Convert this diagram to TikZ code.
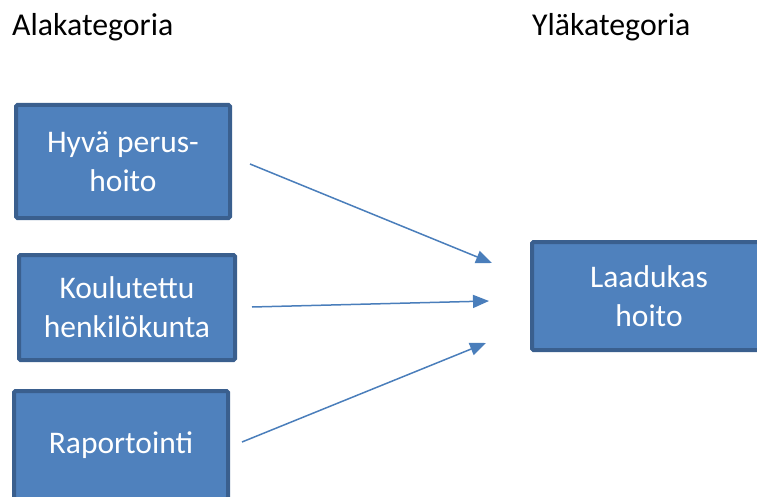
\documentclass[tikz,border=0pt]{standalone}
\usepackage{fontspec}
\setmainfont{Carlito}
\usetikzlibrary{arrows.meta}
\definecolor{boxfill}{HTML}{4F81BD}
\definecolor{boxline}{HTML}{3A5F8E}
\definecolor{arrowblue}{HTML}{4A7EBB}
\begin{document}
\begin{tikzpicture}[x=1pt,y=-1pt,
  catbox/.style={draw=boxline, fill=boxfill, line width=4pt, rounded corners=1.5pt,
    text=white, align=center, inner sep=0pt,
    font=\fontsize{31.5}{39}\selectfont},
  heading/.style={anchor=base west, inner sep=0pt, font=\fontsize{31.8}{39}\selectfont},
  link/.style={draw=arrowblue, line width=1.5pt,
    -{Triangle[length=16pt,width=13pt]}}]
  \useasboundingbox (0,0) rectangle (757,497);

  % column headings
  \node[heading] (alak) at (12,36) {Alakategoria};
  \node[heading] (ylak) at (532,36) {Yläkategoria};

  % sub-categories
  \node[catbox, minimum width=214pt, minimum height=113pt] (perus) at (123,161.5) {Hyvä perus-\\hoito};
  \node[catbox, minimum width=216pt, minimum height=105pt] (koul) at (127,307.5) {Koulutettu\\henkilökunta};
  \node[catbox, minimum width=214pt, minimum height=108pt] (rap) at (121,445) {Raportointi};

  % main category
  \node[catbox, minimum width=234pt, minimum height=108pt] (laatu) at (649,296) {Laadukas\\hoito};

  % arrow ends
  \coordinate (s1) at (250,164);
  \coordinate (e1) at (492,263);
  \coordinate (s2) at (252,307);
  \coordinate (e2) at (489,301);
  \coordinate (s3) at (242,442);
  \coordinate (e3) at (486,343);

  \draw[link] (s1) -- (e1);
  \draw[link] (s2) -- (e2);
  \draw[link] (s3) -- (e3);
\end{tikzpicture}
\end{document}
